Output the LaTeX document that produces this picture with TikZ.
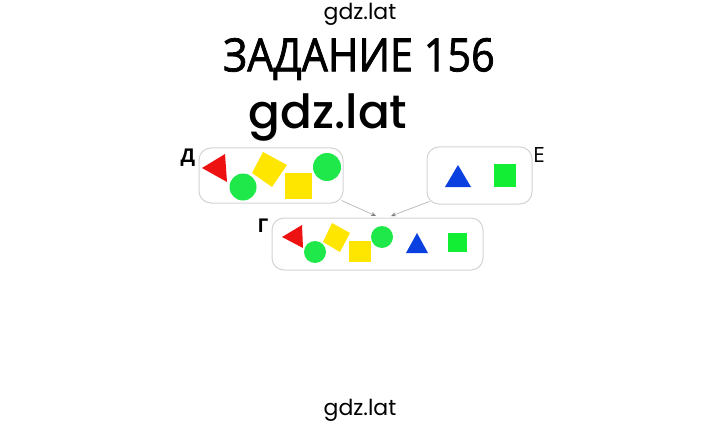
\documentclass[tikz,border=0pt]{standalone}
\usepackage{fontspec}
\setmainfont{Open Sans}
\newfontfamily\popp{Poppins}
\newfontfamily\poppm{Poppins}[UprightFont=*-Medium]
\newfontfamily\titlef{Open Sans}[FakeBold=1.6,FakeStretch=0.9]
\usetikzlibrary{arrows.meta,calc}
\definecolor{myred}{HTML}{EE1111}
\definecolor{myyel}{HTML}{FFE600}
\definecolor{mygrn}{HTML}{1EE84A}
\definecolor{mygrn2}{HTML}{11EE33}
\definecolor{myblu}{HTML}{0A3FE0}
\definecolor{boxgray}{HTML}{D4D4D4}
\definecolor{linegray}{HTML}{BDBDBD}
\tikzset{
  setbox/.style={draw=boxgray, line width=1pt, rounded corners=12pt, fill=white, inner sep=0pt},
  setlabel/.style={font=\fontsize{19}{19}\selectfont\bfseries, inner sep=0pt},
  conn/.style={draw=linegray, line width=0.8pt, -{Stealth[length=5pt,width=4pt,color=gray]}},
  wm/.style={font=\popp\fontsize{22}{22}\selectfont, inner sep=0pt}
}
\begin{document}
\begin{tikzpicture}[x=1pt,y=-1pt]
\useasboundingbox (0,0) rectangle (720,425);
\fill[white] (0,0) rectangle (720,425);
% watermarks and title
\node[wm] (wmtop) at (360,14) {gdz.lat};
\node[wm] (wmbot) at (360,410) {gdz.lat};
\node[font=\titlef\fontsize{46}{46}\selectfont, inner sep=0pt] (title) at (359,59) {ЗАДАНИЕ 156};
\node[font=\poppm\fontsize{47}{47}\selectfont, inner sep=0pt] (wmbig) at (328,118) {gdz.lat};
% boxes
\node[setbox, minimum width=144pt, minimum height=55pt] (D) at (271,175.5) {};
\node[setbox, minimum width=105pt, minimum height=57pt] (E) at (479.5,175.5) {};
\node[setbox, minimum width=211pt, minimum height=52pt] (G) at (377.5,244) {};
\node[setlabel] (Dl) at (188,158) {Д};
\node[setlabel, font=\fontsize{21}{21}\selectfont] (El) at (539,155) {Е};
\node[setlabel] (Gl) at (263,226) {Г};
% connectors
\coordinate (gin1) at (376,216);
\coordinate (gin2) at (391,216);
\draw[conn] ($(D.south east)+(-2,-3)$) -- (gin1);
\draw[conn] ($(E.south west)+(3,-3)$) -- (gin2);
% shapes in D
\fill[myred] (202,168) -- (225,154) -- (227,182) -- cycle;
\fill[mygrn] (243,187) circle (13.5);
\fill[myyel] (263,152) -- (287,165) -- (272,187) -- (252,173) -- cycle;
\fill[myyel] (285,173) rectangle (312,199);
\fill[mygrn] (327,167) circle (14);
% shapes in E
\fill[myblu] (458,165) -- (471,187) -- (445,187) -- cycle;
\fill[mygrn2] (494,164) rectangle (516,187);
% shapes in G
\fill[myred] (282,237) -- (302,225) -- (303,248) -- cycle;
\fill[mygrn] (315,252) circle (11);
\fill[myyel] (332,223) -- (350,233) -- (340,252) -- (323,242) -- cycle;
\fill[myyel] (349,241) rectangle (371,262);
\fill[mygrn] (382,237) circle (11);
\fill[myblu] (417,233) -- (428,253) -- (406,253) -- cycle;
\fill[mygrn2] (448,233) rectangle (467,252);
\end{tikzpicture}
\end{document}
